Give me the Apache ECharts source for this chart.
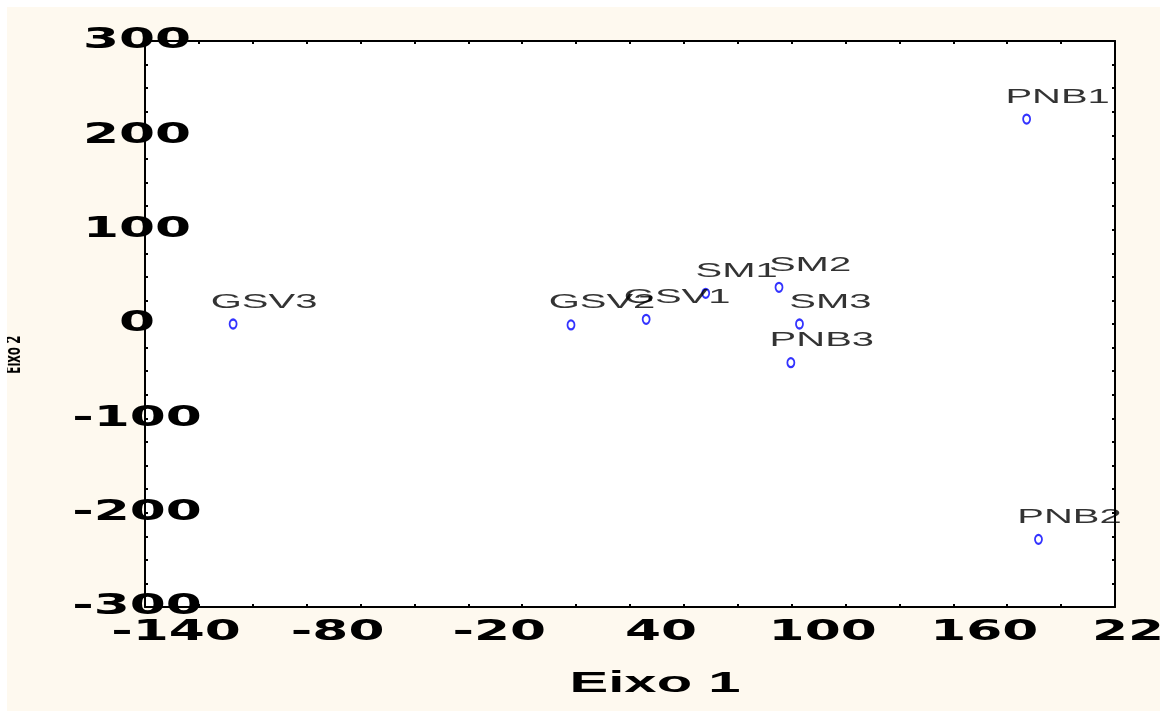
<!DOCTYPE html>
<html>
<head>
<meta charset="utf-8">
<script src="https://cdn.jsdelivr.net/npm/echarts@6/dist/echarts.min.js"></script>
<style>
  html, body { margin: 0; padding: 0; background: #fff; }
  #chart { position: absolute; left: 7px; top: 7px; width: 1153px; height: 704px; }
</style>
</head>
<body>
<div id="chart"></div>
<script>
// Point names and their coordinates on the two axes
var names = ['GSV3', 'GSV2', 'GSV1', 'SM1', 'SM2', 'SM3', 'PNB3', 'PNB1', 'PNB2'];
var eixo1 = [-107.3, 18.1, 46.0, 68.1, 95.3, 102.9, 99.7, 187.2, 191.6];
var eixo2 = [0, -1, 5, 32.5, 38.9, 0, -41, 217.3, -228.3];

// Tick labels shown on the axes
var xLabels = [-140, -80, -20, 40, 100, 160, 220];
var yLabels = [-300, -200, -100, 0, 100, 200, 300];

// The original plot uses horizontally stretched text, fake it per font family
var stretch = { 'DejaVu': 1.85, 'Liberation': 2.0, 'Noto': 0.6 };
var origFillText = CanvasRenderingContext2D.prototype.fillText;
CanvasRenderingContext2D.prototype.fillText = function (text, x, y) {
  var s = 1;
  for (var k in stretch) {
    if (this.font.indexOf(k) >= 0) s = stretch[k];
  }
  if (s === 1) return origFillText.apply(this, arguments);
  this.save();
  this.translate(x, y);
  this.scale(s, 1);
  origFillText.call(this, text, 0, 0);
  this.restore();
};

var points = names.map(function (n, i) {
  return { name: n, value: [eixo1[i], eixo2[i]] };
});

var axisLineStyle = { color: '#000', width: 2 };
var tickStyle = { show: true, inside: true, length: 3, lineStyle: { color: '#000', width: 2 } };
var tickFont = { fontFamily: 'DejaVu Sans', fontWeight: 'bold', fontSize: 28, color: '#000' };

var myChart = echarts.init(document.getElementById('chart'));

var option = {
  backgroundColor: '#fef9ef',
  animation: false,
  grid: {
    left: 138, top: 34, right: 45, bottom: 104,
    outerBoundsMode: 'none',
    containLabel: false,
    show: true, backgroundColor: '#fff', borderWidth: 0
  },
  xAxis: [
    {
      type: 'value', position: 'bottom',
      min: -140, max: 220, interval: 20,
      axisLine: { onZero: false, lineStyle: axisLineStyle },
      axisTick: tickStyle,
      splitLine: { show: false },
      axisLabel: Object.assign({
        margin: 12,
        align: 'center',
        padding: [0, 0, 0, 62],
        showMinLabel: true, showMaxLabel: true,
        formatter: function (v) { return xLabels.indexOf(v) >= 0 ? String(v) : ''; }
      }, tickFont),
      name: 'Eixo 1',
      nameLocation: 'middle',
      nameGap: 62,
      nameTextStyle: {
        fontFamily: 'Liberation Sans', fontWeight: 'bold', fontSize: 29, color: '#000',
        padding: [0, 0, 0, 50]
      }
    },
    {
      type: 'value', position: 'top',
      min: -140, max: 220, interval: 20,
      axisLine: { onZero: false, lineStyle: axisLineStyle },
      axisTick: tickStyle,
      axisLabel: { show: false },
      splitLine: { show: false }
    }
  ],
  yAxis: [
    {
      type: 'value', position: 'left',
      min: -300, max: 300, interval: 25,
      axisLine: { onZero: false, lineStyle: axisLineStyle },
      axisTick: tickStyle,
      splitLine: { show: false },
      axisLabel: Object.assign({
        margin: 8,
        align: 'center',
        showMinLabel: true, showMaxLabel: true,
        formatter: function (v) { return yLabels.indexOf(v) >= 0 ? String(v) : ''; }
      }, tickFont),
      name: 'Eixo 2',
      nameLocation: 'middle',
      nameRotate: 90,
      nameGap: 120,
      nameTextStyle: {
        fontFamily: 'Noto Sans', fontWeight: 'bold', fontSize: 22, color: '#000',
        padding: [0, 62, 0, 0]
      }
    },
    {
      type: 'value', position: 'right',
      min: -300, max: 300, interval: 25,
      axisLine: { onZero: false, lineStyle: axisLineStyle },
      axisTick: tickStyle,
      axisLabel: { show: false },
      splitLine: { show: false }
    }
  ],
  series: [
    {
      type: 'scatter',
      xAxisIndex: 0,
      yAxisIndex: 0,
      data: points,
      symbol: 'emptyCircle',
      symbolSize: [7, 9],
      itemStyle: { color: '#0000ff', borderColor: '#0000ff', borderWidth: 2 },
      label: {
        show: true,
        position: 'inside',
        offset: [31, -22],
        formatter: '{b}',
        fontFamily: 'Liberation Sans',
        fontSize: 20,
        color: '#000',
        textBorderWidth: 0
      },
      emphasis: { disabled: true }
    }
  ]
};

myChart.setOption(option);
</script>
</body>
</html>
